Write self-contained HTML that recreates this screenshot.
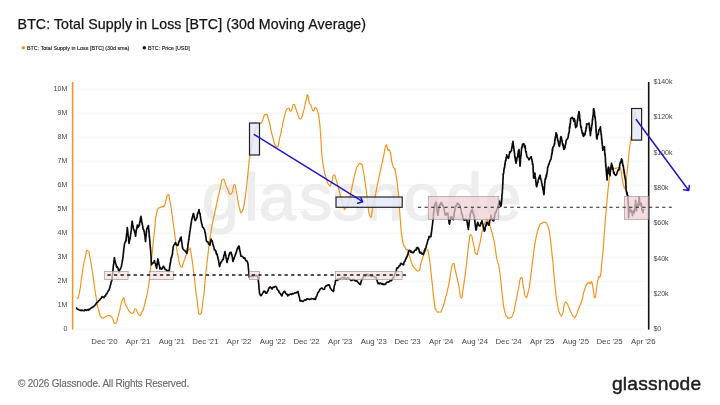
<!DOCTYPE html>
<html><head><meta charset="utf-8"><title>BTC: Total Supply in Loss</title>
<style>
html,body{margin:0;padding:0;background:#fff;}
body{width:720px;height:405px;overflow:hidden;position:relative;font-family:"Liberation Sans",sans-serif;}
#wrap{position:absolute;left:0;top:0;width:720px;height:405px;will-change:transform;transform:translateZ(0);}
#title{position:absolute;left:17.6px;top:16.3px;font-size:14.2px;color:#151515;white-space:nowrap;letter-spacing:0.07px;-webkit-text-stroke:0.25px #151515;}
#foot{position:absolute;left:18px;top:377.8px;font-size:10px;color:#6c6c6c;white-space:nowrap;letter-spacing:-0.2px;-webkit-text-stroke:0.15px #6c6c6c;}
#logo{position:absolute;left:612px;top:372.8px;font-size:19.2px;color:#1c1c1c;white-space:nowrap;letter-spacing:0.2px;-webkit-text-stroke:0.45px #1c1c1c;}
svg{position:absolute;left:0;top:0;}
svg text{font-family:"Liberation Sans",sans-serif;}
</style></head><body><div id="wrap">
<div id="title">BTC: Total Supply in Loss [BTC] (30d Moving Average)</div>
<svg width="720" height="405" viewBox="0 0 720 405">
<g font-size="5.38" fill="#151515" stroke="#151515" stroke-width="0.12">
<circle cx="23.3" cy="47.7" r="1.7" fill="#f7931a" stroke="none"/><text x="27" y="49.5">BTC: Total Supply in Loss [BTC] (30d sma)</text>
<circle cx="144.3" cy="47.7" r="1.7" fill="#111" stroke="none"/><text x="148" y="49.5">BTC: Price [USD]</text>
</g>
<g stroke="#f0f0f0" stroke-width="0.8"><line x1="76.3" x2="644.5" y1="329.3" y2="329.3"/><line x1="76.3" x2="644.5" y1="305.3" y2="305.3"/><line x1="76.3" x2="644.5" y1="281.3" y2="281.3"/><line x1="76.3" x2="644.5" y1="257.3" y2="257.3"/><line x1="76.3" x2="644.5" y1="233.3" y2="233.3"/><line x1="76.3" x2="644.5" y1="209.3" y2="209.3"/><line x1="76.3" x2="644.5" y1="185.3" y2="185.3"/><line x1="76.3" x2="644.5" y1="161.3" y2="161.3"/><line x1="76.3" x2="644.5" y1="137.3" y2="137.3"/><line x1="76.3" x2="644.5" y1="113.3" y2="113.3"/><line x1="76.3" x2="644.5" y1="89.3" y2="89.3"/></g>
<text y="220" font-size="66.5" fill="#ededed" stroke="#ededed" stroke-width="1.3" stroke-linejoin="round" x="202 243.9 259.1 299.3 332.3 365.7 403.4 445.6 484.5">glassnode</text>
<g font-size="7.8" fill="#474747"><text x="67.4" y="331.4" text-anchor="end" font-size="7.1">0</text><text x="67.4" y="307.4" text-anchor="end" font-size="7.1">1M</text><text x="67.4" y="283.4" text-anchor="end" font-size="7.1">2M</text><text x="67.4" y="259.4" text-anchor="end" font-size="7.1">3M</text><text x="67.4" y="235.4" text-anchor="end" font-size="7.1">4M</text><text x="67.4" y="211.4" text-anchor="end" font-size="7.1">5M</text><text x="67.4" y="187.4" text-anchor="end" font-size="7.1">6M</text><text x="67.4" y="163.4" text-anchor="end" font-size="7.1">7M</text><text x="67.4" y="139.4" text-anchor="end" font-size="7.1">8M</text><text x="67.4" y="115.4" text-anchor="end" font-size="7.1">9M</text><text x="67.4" y="91.4" text-anchor="end" font-size="7.1">10M</text><text x="653.4" y="331.3" font-size="7.0">$0</text><text x="653.4" y="296.0" font-size="7.0">$20k</text><text x="653.4" y="260.6" font-size="7.0">$40k</text><text x="653.4" y="225.3" font-size="7.0">$60k</text><text x="653.4" y="190.0" font-size="7.0">$80k</text><text x="653.4" y="154.7" font-size="7.0">$100k</text><text x="653.4" y="119.3" font-size="7.0">$120k</text><text x="653.4" y="84.0" font-size="7.0">$140k</text><text x="104.4" y="344.2" text-anchor="middle">Dec '20</text><text x="138.1" y="344.2" text-anchor="middle">Apr '21</text><text x="171.8" y="344.2" text-anchor="middle">Aug '21</text><text x="205.4" y="344.2" text-anchor="middle">Dec '21</text><text x="239.1" y="344.2" text-anchor="middle">Apr '22</text><text x="272.8" y="344.2" text-anchor="middle">Aug '22</text><text x="306.5" y="344.2" text-anchor="middle">Dec '22</text><text x="340.2" y="344.2" text-anchor="middle">Apr '23</text><text x="373.8" y="344.2" text-anchor="middle">Aug '23</text><text x="407.5" y="344.2" text-anchor="middle">Dec '23</text><text x="441.2" y="344.2" text-anchor="middle">Apr '24</text><text x="474.9" y="344.2" text-anchor="middle">Aug '24</text><text x="508.6" y="344.2" text-anchor="middle">Dec '24</text><text x="542.2" y="344.2" text-anchor="middle">Apr '25</text><text x="575.9" y="344.2" text-anchor="middle">Aug '25</text><text x="609.6" y="344.2" text-anchor="middle">Dec '25</text><text x="643.3" y="344.2" text-anchor="middle">Apr '26</text></g>
<line x1="72.6" x2="72.6" y1="82" y2="329.6" stroke="#f7931a" stroke-width="1.5"/>
<line x1="648.7" x2="648.7" y1="82" y2="329.6" stroke="#111" stroke-width="1.6"/>
<path fill="none" stroke="#f7931a" stroke-width="1.18" stroke-linejoin="round" d="M76.7 298.5C77.6 296.8 77.5 301.7 79.3 293.3C81.1 284.9 80.3 285.1 82.2 273.3C84.1 261.5 83.2 265.4 85.1 257.8C87.0 250.2 86.0 249.8 87.8 250.5C89.6 251.2 88.6 250.9 90.4 260.0C92.2 269.1 91.4 265.2 93.3 277.8C95.2 290.4 94.3 286.7 96.2 297.8C98.1 308.9 97.1 304.4 98.9 311.0C100.7 317.6 99.4 315.6 101.6 317.5C103.8 319.4 103.1 317.4 105.5 316.7C107.9 316.0 106.7 315.1 108.9 315.5C111.1 315.9 110.0 315.2 112.2 317.8C114.4 320.4 113.3 324.8 115.5 323.3C117.7 321.8 116.4 321.4 118.9 313.3C121.4 305.2 120.7 301.9 122.9 298.9C125.1 295.9 123.7 300.9 125.5 304.4C127.3 307.9 126.7 307.0 128.2 309.5C129.7 312.0 128.4 310.8 130.0 312.0C131.6 313.2 131.2 314.0 133.0 313.0C134.8 312.0 133.5 308.3 135.5 309.0C137.5 309.7 136.8 314.0 139.0 315.0C141.2 316.0 139.8 316.7 142.0 312.0C144.2 307.3 143.2 310.7 145.5 301.0C147.8 291.3 147.2 295.7 149.0 283.0C150.8 270.3 150.0 272.3 151.0 263.0C152.0 253.7 150.9 265.4 152.0 255.0C153.1 244.6 152.8 245.8 154.4 231.7C156.0 217.6 154.5 221.0 156.7 212.8C158.9 204.6 158.4 209.5 161.0 207.0C163.6 204.5 162.1 209.4 164.4 205.4C166.7 201.4 165.9 196.2 167.8 195.0C169.7 193.8 168.6 195.4 170.0 201.7C171.4 208.0 170.2 201.2 172.0 214.0C173.8 226.8 173.5 226.0 175.5 240.0C177.5 254.0 176.2 247.1 178.0 256.0C179.8 264.9 179.0 265.0 181.0 266.7C183.0 268.4 182.1 265.2 184.0 261.0C185.9 256.8 184.9 257.9 186.7 254.0C188.5 250.1 188.1 249.7 189.5 249.4C190.9 249.1 189.5 244.5 191.0 253.0C192.5 261.5 192.0 259.3 194.0 275.0C196.0 290.7 195.0 286.9 197.0 300.0C199.0 313.1 197.9 314.7 200.0 314.4C202.1 314.1 201.5 311.6 203.3 299.0C205.1 286.4 204.0 291.0 205.5 276.7C207.0 262.4 206.0 271.0 207.8 256.0C209.6 241.0 208.4 247.2 211.0 231.7C213.6 216.2 212.5 223.5 215.5 209.4C218.5 195.3 217.5 199.4 220.0 189.4C222.5 179.4 220.7 180.2 222.9 179.4C225.1 178.6 224.0 182.1 226.7 187.0C229.4 191.9 228.4 194.8 231.0 194.0C233.6 193.2 232.5 184.5 234.4 184.5C236.3 184.5 235.0 186.1 236.7 194.0C238.4 201.9 237.8 202.4 239.5 208.3C241.2 214.2 240.2 213.5 241.8 211.7C243.4 209.9 242.8 211.7 244.4 202.8C246.0 193.9 245.3 196.6 246.7 185.0C248.1 173.4 247.4 177.8 248.5 168.0C249.6 158.2 248.4 165.6 250.0 155.5C251.6 145.4 251.1 147.0 253.3 137.8C255.5 128.6 254.5 132.6 256.7 127.8C258.9 123.0 258.2 125.2 260.0 123.3C261.8 121.4 260.2 125.0 262.0 122.0C263.8 119.0 263.2 114.7 265.5 114.4C267.8 114.1 266.8 114.3 269.0 121.0C271.2 127.7 269.4 125.8 272.0 134.4C274.6 143.0 274.0 145.9 276.7 146.7C279.4 147.5 277.4 146.7 280.0 136.7C282.6 126.7 281.8 126.1 284.4 116.7C287.0 107.3 285.6 110.3 287.8 108.4C290.0 106.5 289.0 112.3 291.0 111.0C293.0 109.7 291.9 104.4 293.8 104.4C295.7 104.4 294.6 106.2 296.7 111.0C298.8 115.8 297.8 118.6 300.0 118.9C302.2 119.2 301.3 118.1 303.3 112.0C305.3 105.9 304.5 106.2 306.0 100.5C307.5 94.8 306.6 94.3 307.7 95.0C308.8 95.7 308.1 98.8 309.3 102.5C310.5 106.2 309.9 103.2 311.2 106.0C312.5 108.8 311.7 110.3 313.1 110.9C314.5 111.5 313.8 107.6 315.3 107.8C316.8 108.0 316.2 107.1 317.6 111.5C319.0 115.9 318.4 113.4 319.4 121.0C320.4 128.6 319.7 122.9 320.6 134.4C321.5 145.9 320.9 144.3 322.0 155.5C323.1 166.7 322.6 161.2 323.8 168.0C325.0 174.8 323.8 170.3 325.5 176.0C327.2 181.7 327.0 182.7 329.0 185.0C331.0 187.3 329.9 186.1 331.5 182.8C333.1 179.5 332.1 175.4 333.8 175.0C335.5 174.6 334.6 175.4 336.7 181.7C338.8 188.0 337.8 185.9 340.0 194.0C342.2 202.1 341.5 201.2 343.3 206.0C345.1 210.8 343.6 210.0 345.5 208.3C347.4 206.6 346.8 208.1 349.0 201.0C351.2 193.9 349.8 196.8 352.0 187.0C354.2 177.2 353.6 178.7 355.5 171.7C357.4 164.7 356.0 168.6 357.8 166.0C359.6 163.4 359.2 162.3 361.0 164.0C362.8 165.7 361.4 161.0 363.3 171.0C365.2 181.0 364.5 179.0 366.7 194.0C368.9 209.0 367.8 212.3 370.0 216.0C372.2 219.7 370.7 216.1 373.3 205.0C375.9 193.9 375.2 195.1 377.8 182.8C380.4 170.5 379.2 176.3 381.0 168.0C382.8 159.7 381.6 165.3 383.3 157.8C385.0 150.3 384.5 148.1 386.0 145.5C387.5 142.9 386.5 148.0 387.8 150.0C389.1 152.0 388.5 147.1 390.0 151.5C391.5 155.9 390.7 157.5 392.2 163.3C393.7 169.1 393.3 166.1 394.4 169.0C395.5 171.9 394.2 164.4 395.5 172.0C396.8 179.6 396.7 177.0 398.2 191.7C399.7 206.4 398.7 200.5 400.0 216.0C401.3 231.5 400.4 227.5 402.2 238.3C404.0 249.1 403.6 244.1 405.5 248.3C407.4 252.5 406.2 246.8 408.0 251.0C409.8 255.2 408.9 255.4 411.0 261.0C413.1 266.6 411.7 264.7 414.4 267.8C417.1 270.9 416.8 271.9 419.0 270.4C421.2 268.9 419.2 269.0 421.0 263.3C422.8 257.6 422.4 257.7 424.4 253.3C426.4 248.9 425.6 250.1 427.0 250.0C428.4 249.9 427.5 248.6 428.5 253.0C429.5 257.4 428.8 253.2 430.0 263.3C431.2 273.4 430.7 270.0 432.2 283.3C433.7 296.6 433.1 294.4 434.4 303.3C435.7 312.2 434.3 307.1 436.0 310.0C437.7 312.9 437.4 312.3 439.5 312.0C441.6 311.7 440.2 313.7 442.2 309.0C444.2 304.3 443.2 306.4 445.5 297.8C447.8 289.2 447.2 292.2 449.0 283.3C450.8 274.4 449.6 277.7 451.0 271.0C452.4 264.3 451.8 263.3 453.3 263.3C454.8 263.3 453.6 263.2 455.5 271.0C457.4 278.8 457.2 277.8 459.0 286.7C460.8 295.6 459.6 297.4 461.0 297.8C462.4 298.2 461.4 299.7 463.3 287.8C465.2 275.9 464.8 277.3 466.7 262.0C468.6 246.7 467.6 251.0 469.0 242.0C470.4 233.0 469.6 234.7 471.0 235.0C472.4 235.3 471.6 236.5 473.3 242.8C475.0 249.1 474.1 252.6 476.0 254.0C477.9 255.4 476.9 254.4 479.0 247.0C481.1 239.6 480.0 240.1 482.2 231.7C484.4 223.3 483.6 225.4 485.5 221.7C487.4 218.0 486.0 217.9 487.8 220.5C489.6 223.1 488.8 221.9 491.0 229.4C493.2 236.9 492.5 233.5 494.4 243.0C496.3 252.5 495.0 249.0 496.7 258.0C498.4 267.0 497.7 257.9 499.5 270.0C501.3 282.1 500.6 281.1 502.2 294.4C503.8 307.7 502.8 302.6 504.4 310.0C506.0 317.4 505.1 314.1 507.0 316.7C508.9 319.3 508.0 318.6 510.0 317.8C512.0 317.0 511.2 319.2 513.0 314.4C514.8 309.6 513.8 311.4 515.5 303.3C517.2 295.2 516.4 298.5 518.2 290.0C520.0 281.5 519.3 279.3 521.0 277.8C522.7 276.3 521.8 279.2 523.3 285.5C524.8 291.8 523.8 294.9 525.5 296.7C527.2 298.5 526.7 297.7 528.4 291.0C530.1 284.3 529.2 287.7 530.7 276.7C532.2 265.7 531.4 270.1 533.0 258.0C534.6 245.9 533.5 250.8 535.5 240.5C537.5 230.2 536.8 232.8 539.0 227.0C541.2 221.2 540.2 224.8 542.2 223.2C544.2 221.6 543.1 221.4 545.0 222.3C546.9 223.2 546.1 221.4 547.8 226.0C549.5 230.6 548.6 226.7 550.0 236.0C551.4 245.3 551.0 244.9 552.0 254.0C553.0 263.1 552.0 252.8 553.0 263.3C554.0 273.8 553.6 272.2 555.0 285.5C556.4 298.8 555.6 293.8 557.3 303.3C559.0 312.8 558.2 310.7 560.0 314.0C561.8 317.3 561.2 316.5 562.7 313.3C564.2 310.1 563.1 307.8 564.4 304.4C565.7 301.0 565.2 301.9 566.7 303.0C568.2 304.1 567.4 304.4 569.0 307.8C570.6 311.2 569.9 310.2 571.5 313.3C573.1 316.4 572.3 316.3 573.8 317.0C575.3 317.7 574.3 318.6 576.0 315.5C577.7 312.4 577.1 312.6 579.0 307.8C580.9 303.0 580.0 306.9 581.8 301.0C583.6 295.1 582.4 296.0 584.4 290.0C586.4 284.0 585.9 285.1 587.8 283.0C589.7 280.9 588.7 284.1 590.0 283.8C591.3 283.5 590.7 280.1 591.8 282.2C592.9 284.3 592.2 284.8 593.3 290.0C594.4 295.2 593.9 298.5 595.0 297.8C596.1 297.1 595.6 294.5 596.7 287.8C597.8 281.1 597.2 281.9 598.4 277.8C599.6 273.7 599.3 280.3 600.4 275.5C601.5 270.7 600.8 272.5 601.8 263.3C602.8 254.1 602.4 258.5 603.3 248.0C604.2 237.5 603.3 246.0 604.4 231.7C605.5 217.4 605.2 221.9 606.7 205.0C608.2 188.1 607.6 192.8 609.0 181.0C610.4 169.2 608.8 173.7 611.0 169.5C613.2 165.3 612.7 169.0 615.5 168.4C618.3 167.8 617.7 166.9 619.5 167.8C621.3 168.7 619.7 165.5 621.0 171.0C622.3 176.5 621.8 179.3 623.3 184.4C624.8 189.5 624.3 189.9 625.5 186.2C626.7 182.5 625.8 184.3 627.0 173.3C628.2 162.3 627.8 164.4 629.0 153.3C630.2 142.2 629.6 147.8 630.7 140.0C631.8 132.2 631.1 138.0 632.2 130.0C633.3 122.0 633.0 122.0 634.0 116.0C635.0 110.0 634.4 112.5 635.1 112.0C635.8 111.5 635.4 112.2 636.0 114.5C636.6 116.8 636.5 117.5 636.8 119.0"/>
<polyline fill="none" stroke="#0a0a0a" stroke-width="1.65" stroke-linejoin="round" points="76.0,307.9 76.7,308.1 77.3,309.2 78.0,309.2 78.7,309.8 79.3,310.0 80.0,310.1 80.6,310.5 81.2,310.1 81.8,310.6 82.4,310.2 83.0,310.5 83.6,310.6 84.2,310.8 84.8,309.9 85.4,309.9 86.0,310.1 86.6,310.4 87.2,309.9 87.8,309.6 88.4,310.1 89.0,309.1 89.7,309.6 90.3,308.6 91.0,308.2 91.6,307.6 92.2,307.4 92.7,307.5 93.3,306.4 93.8,306.3 94.4,305.9 95.0,305.1 95.5,304.8 96.1,303.6 96.7,302.9 97.2,302.3 97.8,302.2 98.3,301.3 98.9,300.5 99.5,300.2 100.0,299.5 100.5,298.5 101.0,298.5 101.5,297.7 102.0,296.5 102.6,297.0 103.2,297.1 103.8,297.6 104.4,297.0 104.9,295.8 105.5,295.9 106.0,294.3 106.5,294.1 107.0,293.7 107.5,292.1 108.0,291.7 108.5,290.2 109.0,290.2 109.3,289.4 109.6,288.1 109.9,287.6 110.2,285.7 110.5,285.2 110.8,284.1 111.0,283.1 111.2,281.9 111.5,281.5 111.8,280.7 112.0,279.0 112.1,278.3 112.2,276.3 112.3,276.3 112.4,275.2 112.5,274.8 112.7,273.5 112.8,271.6 112.9,270.8 113.0,270.3 113.1,268.2 113.2,268.0 113.3,266.4 113.4,265.3 113.6,264.1 113.7,264.4 113.8,262.2 113.9,261.4 114.0,260.7 114.2,260.5 114.3,258.0 114.4,257.7 114.6,258.9 114.8,260.6 115.1,261.5 115.3,262.6 115.5,262.7 115.8,263.8 116.1,264.6 116.4,266.5 116.7,267.3 117.2,266.7 117.8,267.6 118.1,268.5 118.4,269.5 118.7,271.0 119.0,272.1 119.5,270.6 120.0,269.4 120.5,268.8 121.0,267.6 121.2,267.0 121.4,266.7 121.6,265.2 121.8,264.0 122.0,263.2 122.2,262.2 122.4,260.1 122.5,260.6 122.7,259.3 122.8,258.4 123.0,257.2 123.1,255.3 123.3,254.3 123.4,252.6 123.5,252.6 123.7,250.4 123.8,249.3 123.9,248.6 124.0,247.4 124.2,246.8 124.3,245.1 124.4,244.3 124.7,243.4 125.0,242.3 125.4,242.0 125.7,240.4 126.0,241.1 126.1,239.7 126.2,237.7 126.3,236.9 126.4,236.1 126.5,235.1 126.7,233.5 126.8,234.2 126.9,233.5 127.0,231.3 127.1,230.3 127.2,228.3 127.3,227.6 127.4,229.0 127.6,229.9 127.7,232.4 127.8,231.9 127.9,232.7 128.1,235.9 128.2,236.0 128.3,236.3 128.5,238.4 128.6,238.4 128.7,240.6 128.9,242.7 129.0,243.4 129.2,242.3 129.5,240.4 129.8,239.7 130.0,238.5 130.1,238.6 130.3,237.1 130.4,236.6 130.6,234.6 130.7,233.6 130.8,233.7 130.9,233.1 131.0,231.8 131.2,230.7 131.3,229.8 131.4,228.6 131.5,226.5 131.6,226.0 131.8,224.5 131.9,222.7 132.1,221.6 132.2,221.3 132.4,222.2 132.6,224.3 132.9,226.0 133.1,225.9 133.4,228.2 133.7,229.4 134.0,230.2 134.3,230.3 134.5,231.1 134.8,232.6 135.0,233.3 135.3,234.3 135.5,236.2 135.7,235.9 135.8,234.8 135.9,233.0 136.1,232.4 136.2,231.7 136.4,229.3 136.6,229.4 136.8,229.0 136.9,227.7 137.1,226.6 137.3,225.0 137.7,225.2 138.1,227.5 139.0,225.7 139.2,225.7 139.4,225.2 139.6,222.7 139.8,221.8 140.0,221.8 140.2,220.6 140.5,218.2 140.8,217.0 141.0,216.4 141.2,219.0 141.4,219.8 141.5,219.1 141.7,221.8 141.9,222.8 142.1,223.4 142.2,223.6 142.4,225.1 142.5,225.1 142.7,226.2 143.1,229.1 143.5,229.2 143.8,230.0 144.1,231.8 144.4,231.6 144.5,233.6 144.6,234.6 144.8,234.2 144.9,235.4 145.0,236.7 145.1,237.6 145.2,239.5 145.4,240.0 145.5,241.6 145.6,239.8 145.7,240.4 145.8,238.0 145.9,237.1 146.0,236.3 146.1,235.6 146.2,233.7 146.3,233.7 146.5,231.6 146.6,230.6 146.7,229.4 147.5,227.2 147.9,226.9 148.4,225.5 148.5,225.8 148.6,228.7 148.7,228.2 148.8,229.9 148.9,231.5 149.0,232.1 149.1,232.6 149.2,234.0 149.2,235.1 149.3,236.6 149.4,236.1 149.5,238.1 149.6,238.4 149.7,239.5 149.8,241.6 149.9,242.0 149.9,243.1 150.0,244.6 150.1,245.9 150.2,245.9 150.3,247.2 150.4,248.0 150.5,249.0 150.6,250.4 150.7,250.9 150.7,252.1 150.8,253.0 150.9,254.9 151.0,255.3 151.1,256.8 151.1,258.0 151.2,257.7 151.2,259.3 151.2,261.1 151.3,261.9 151.3,261.7 151.4,262.7 151.4,264.3 151.5,265.0 151.9,264.2 152.4,263.1 152.8,263.2 153.3,262.9 153.9,262.4 154.4,260.5 154.8,262.4 155.1,263.3 155.5,263.5 155.8,265.6 156.1,266.7 156.4,266.3 156.7,268.4 156.8,266.5 157.0,265.6 157.1,265.4 157.2,264.0 157.4,261.7 157.5,261.1 157.7,260.1 157.8,258.8 158.0,259.4 158.2,260.7 158.5,262.4 158.7,262.1 158.9,264.1 159.1,264.9 159.3,265.1 159.6,266.7 159.8,268.2 160.0,269.0 160.8,268.0 161.6,269.1 162.2,268.4 162.7,268.1 163.3,266.2 163.9,267.1 164.4,267.4 165.0,269.3 165.6,269.3 166.1,269.7 166.7,270.9 167.2,271.2 167.8,270.4 168.4,270.6 169.0,271.6 169.1,271.7 169.3,270.1 169.4,269.4 169.6,267.3 169.7,266.2 169.9,266.3 170.0,264.9 170.2,263.2 170.3,263.8 170.5,262.3 170.7,261.6 170.8,259.2 171.0,259.5 171.3,257.2 171.6,257.7 171.9,255.9 172.2,254.8 172.3,254.1 172.5,253.9 172.6,251.5 172.8,250.2 172.9,250.1 173.0,248.5 173.2,247.2 173.3,246.5 173.9,245.0 174.4,244.6 174.9,243.5 175.5,242.5 176.1,244.5 176.6,244.7 177.2,245.5 177.8,245.5 178.1,244.7 178.5,243.0 178.8,242.5 179.2,240.9 179.5,241.4 179.9,240.1 180.2,238.3 180.6,237.9 181.0,237.7 181.2,237.1 181.3,239.7 181.4,239.9 181.6,241.0 181.8,242.7 181.9,242.8 182.1,244.0 182.2,245.4 182.4,247.0 182.5,246.7 182.7,248.5 183.3,249.3 183.8,249.9 184.4,250.4 184.9,250.9 185.5,251.4 186.1,252.3 186.7,253.4 186.9,253.5 187.0,251.5 187.2,250.3 187.3,249.1 187.5,249.7 187.6,248.8 187.8,247.3 187.9,245.5 188.1,244.5 188.2,243.6 188.3,242.9 188.5,241.3 188.6,240.9 188.7,239.5 188.9,240.0 189.0,238.7 189.1,237.1 189.3,235.4 189.4,236.1 189.6,233.6 189.7,232.7 189.9,230.8 190.0,230.8 190.2,229.9 190.3,229.0 190.5,227.3 190.7,227.0 190.8,224.8 191.0,224.6 191.2,223.0 191.3,222.8 191.5,220.9 191.7,219.8 191.9,219.5 192.0,218.3 192.2,218.2 192.4,217.0 192.6,216.6 192.9,215.3 193.1,214.4 193.3,213.5 193.5,213.6 193.8,214.4 194.0,217.2 194.2,216.4 194.5,218.7 194.7,219.7 195.0,219.7 195.4,220.6 195.8,219.7 196.7,218.2 196.9,217.6 197.1,216.8 197.4,214.1 197.6,214.1 197.8,213.0 198.1,213.0 198.4,212.0 198.7,211.2 199.0,209.6 199.2,211.7 199.5,212.3 199.7,213.4 199.9,213.3 200.1,213.8 200.2,215.1 200.4,216.7 200.6,217.0 200.8,219.9 201.0,220.1 201.2,221.2 201.4,222.3 201.6,223.4 201.8,224.0 202.0,224.1 202.4,226.6 202.8,227.3 203.2,227.5 203.8,228.5 204.4,229.7 204.6,229.5 204.8,232.2 205.1,232.2 205.3,232.9 205.5,234.6 205.7,236.6 205.9,236.6 206.1,238.9 206.3,240.5 206.5,240.6 206.7,241.5 207.8,241.7 208.2,242.9 208.6,243.8 209.0,244.2 210.0,245.2 210.2,243.0 210.4,242.0 210.6,241.1 210.8,241.1 211.0,239.1 211.4,240.3 211.8,240.3 212.2,241.0 212.6,242.5 212.9,244.4 213.3,245.3 213.5,246.4 213.7,246.6 214.0,248.0 214.2,248.9 214.4,250.0 215.5,250.0 215.8,252.2 216.1,251.6 216.4,254.1 216.7,254.6 217.1,253.9 217.4,255.7 217.8,257.1 218.0,258.7 218.2,258.8 218.4,259.5 218.6,260.6 218.8,263.0 219.0,262.7 219.1,264.6 219.3,264.9 219.5,266.7 219.8,266.2 220.2,263.5 220.6,263.6 221.0,262.0 221.6,261.7 222.2,260.3 222.8,259.0 223.3,259.5 223.5,258.0 223.8,256.1 224.0,255.0 224.2,255.0 224.5,253.9 224.7,252.6 225.0,251.5 225.2,252.7 225.4,253.6 225.6,255.7 225.8,255.0 226.0,257.3 226.2,258.7 226.4,258.3 226.6,260.8 226.8,261.4 227.0,262.5 227.3,260.6 227.6,259.8 227.9,258.8 228.2,258.7 228.5,257.3 228.8,255.9 229.0,255.2 229.3,254.1 229.8,252.8 230.2,252.4 231.0,252.5 231.2,252.6 231.5,254.9 231.8,254.5 232.0,255.7 232.2,257.0 232.4,257.4 232.6,258.8 232.8,260.9 233.0,261.5 233.3,260.6 233.7,259.3 234.0,258.8 234.3,257.6 234.7,256.2 235.1,255.7 235.5,253.8 235.8,253.9 236.1,252.4 236.4,252.0 236.7,250.7 237.1,249.2 237.6,247.9 238.0,248.6 238.5,246.2 239.0,246.0 239.2,246.7 239.4,247.6 239.6,249.5 239.8,251.0 240.0,250.7 240.2,252.5 240.4,252.9 240.6,254.5 240.8,255.4 241.0,256.2 241.8,256.2 242.7,256.6 243.6,258.2 244.4,257.8 244.9,258.0 245.5,260.0 246.0,260.7 246.4,260.7 246.9,261.0 247.4,261.9 247.8,262.8 247.9,264.1 248.1,264.8 248.2,266.2 248.3,267.3 248.5,269.0 248.6,270.5 248.7,271.5 248.8,272.1 248.9,273.2 249.0,274.5 249.1,275.4 249.2,276.4 249.3,277.3 249.9,276.5 250.6,276.5 251.3,275.7 252.0,276.7 252.6,276.4 253.1,276.4 253.7,275.0 254.3,275.2 254.9,275.4 255.5,275.9 256.1,275.4 256.8,275.5 257.4,276.4 258.0,277.1 258.1,277.0 258.2,278.0 258.3,280.1 258.4,281.5 258.5,281.8 258.6,283.1 258.7,283.2 258.8,284.9 258.9,286.7 259.0,287.6 259.1,288.6 259.1,289.8 259.2,289.8 259.3,290.7 259.4,291.8 259.5,293.3 260.0,294.3 260.5,295.4 261.0,295.7 261.6,294.9 262.1,294.2 262.7,293.0 263.3,292.4 263.8,291.0 264.4,291.3 264.9,291.4 265.5,292.9 266.1,293.1 266.7,293.1 267.1,292.0 267.5,291.3 267.9,291.0 268.3,290.2 268.7,288.6 269.1,287.7 269.6,287.6 270.0,286.8 270.5,287.2 271.0,287.7 272.0,289.1 272.6,287.6 273.1,287.4 273.7,287.0 274.3,287.3 274.9,286.5 275.5,286.4 275.9,286.7 276.4,287.1 276.8,287.9 277.2,289.5 277.6,290.0 278.1,290.2 278.6,290.6 279.0,292.0 279.5,292.9 280.0,293.2 280.5,293.8 281.2,295.0 282.0,295.9 282.4,294.3 282.8,293.2 283.2,292.8 283.8,291.9 284.4,291.2 284.9,291.4 285.5,293.1 286.0,293.7 286.6,294.2 287.2,294.4 287.8,295.9 288.6,294.7 289.4,294.8 290.2,294.1 291.0,294.1 291.7,294.5 292.5,293.5 293.2,293.9 294.0,293.4 294.7,292.9 295.5,293.0 296.1,292.6 296.8,292.4 297.4,292.6 298.0,291.5 298.2,292.7 298.5,293.5 298.8,295.6 299.0,295.7 299.2,296.6 299.5,297.8 299.8,299.4 300.0,301.0 300.8,301.1 301.6,300.7 302.5,301.4 303.3,301.4 304.0,300.4 304.8,299.8 305.5,300.2 306.3,299.8 307.0,298.7 307.8,299.1 308.6,299.1 309.4,299.5 310.2,299.2 311.0,299.0 311.7,298.5 312.5,298.7 313.2,298.7 314.0,299.4 314.7,298.5 315.5,299.4 315.9,297.6 316.2,296.8 316.6,296.3 317.0,295.5 317.4,294.1 317.8,292.9 318.3,292.3 318.9,291.3 319.4,290.9 319.9,289.3 320.5,288.8 321.0,288.6 321.9,287.9 322.7,288.9 323.5,289.4 324.4,289.3 324.9,287.3 325.5,286.5 326.1,285.6 326.7,285.9 327.8,285.0 328.4,285.2 329.0,284.8 329.3,285.0 329.7,285.8 330.0,287.5 330.5,288.2 331.0,288.8 331.6,290.1 332.2,290.3 332.8,290.9 333.3,291.5 333.5,291.4 333.7,290.6 333.9,289.2 334.0,288.6 334.2,286.3 334.4,285.7 334.6,285.0 334.8,284.7 335.1,283.7 335.3,281.8 335.5,280.7 336.1,280.5 336.6,280.2 337.2,280.3 337.8,279.0 338.4,279.7 339.0,279.3 339.7,279.2 340.3,278.8 341.0,278.1 341.8,277.7 342.5,277.6 343.3,277.6 344.0,278.5 344.8,277.6 345.5,278.2 346.3,278.9 347.0,278.0 347.8,277.9 348.5,278.0 349.3,279.2 350.0,279.3 350.7,280.4 351.3,280.4 352.0,280.5 352.6,279.7 353.2,279.5 353.8,279.6 354.4,280.3 355.2,280.9 355.9,280.7 356.7,280.7 357.2,281.4 357.8,282.1 358.4,282.8 359.0,283.3 359.7,284.2 360.4,284.6 360.7,282.9 360.9,283.0 361.2,281.3 361.6,280.4 362.0,278.9 362.6,278.8 363.1,277.3 363.7,276.7 364.3,276.2 364.9,275.4 365.5,276.1 366.1,275.1 366.7,274.2 367.5,274.5 368.2,275.8 369.0,275.2 369.7,274.9 370.3,275.9 371.0,275.7 371.7,276.5 372.5,275.2 373.2,276.0 374.0,276.8 374.7,277.0 375.5,277.2 375.9,277.1 376.4,278.6 376.8,279.6 377.1,280.3 377.5,282.4 377.9,282.6 378.2,283.8 378.8,283.1 379.4,283.8 380.0,283.1 380.7,283.0 381.5,284.0 382.2,284.3 382.8,283.5 383.4,284.5 384.0,284.7 384.8,284.1 385.5,284.3 386.1,283.2 386.6,282.7 387.2,282.1 387.8,282.1 388.6,282.1 389.4,281.5 390.2,280.6 391.0,280.8 391.6,280.5 392.2,279.2 392.8,278.3 393.3,277.5 393.9,277.1 394.4,275.6 394.9,273.7 395.5,272.8 395.8,272.0 396.1,271.1 396.4,270.2 396.7,268.5 397.2,267.9 397.8,268.2 398.4,267.2 399.0,266.4 399.5,265.5 400.0,265.6 400.5,263.8 401.0,263.4 401.6,263.5 402.2,264.2 403.3,264.9 403.7,264.5 404.0,262.5 404.4,261.6 404.9,261.4 405.5,259.6 405.9,258.1 406.2,258.8 406.6,256.9 407.0,256.8 407.4,255.1 407.8,254.9 408.2,253.2 408.6,251.5 409.0,250.3 410.0,250.6 410.5,251.3 411.1,252.3 411.6,251.4 412.5,252.6 413.3,252.6 413.9,252.1 414.4,250.7 414.9,250.3 415.5,250.0 416.1,250.1 416.6,247.7 417.2,247.7 417.8,247.4 418.2,249.0 418.6,248.4 419.0,249.5 419.3,251.8 419.7,252.8 420.0,252.8 420.8,252.1 421.6,253.8 422.5,253.4 423.3,254.6 423.6,253.3 424.0,252.9 424.3,250.6 424.7,251.0 425.0,249.1 425.3,248.4 425.7,248.4 426.0,247.5 426.4,245.2 426.7,244.6 427.0,243.8 427.2,243.0 427.5,241.7 427.8,240.4 428.1,239.4 428.4,239.5 428.7,238.9 429.0,236.3 430.0,236.9 431.0,236.4 431.1,233.9 431.2,234.8 431.4,232.1 431.5,232.2 431.6,231.1 431.8,230.3 431.9,228.5 432.0,227.9 432.1,227.1 432.3,225.7 432.4,225.2 432.6,223.6 432.7,222.5 432.9,220.4 433.0,220.7 433.1,219.4 433.2,217.7 433.3,218.0 433.4,216.9 433.5,215.0 433.6,213.2 433.7,213.0 433.8,211.0 433.9,210.0 434.0,209.8 434.2,207.9 434.3,207.8 434.4,207.0 434.7,204.7 434.9,205.4 435.2,203.2 435.6,203.5 436.0,202.2 436.1,202.8 436.3,202.6 436.4,204.9 436.6,205.6 436.8,208.2 436.9,207.3 437.0,210.0 437.2,211.3 437.3,211.6 437.4,212.8 437.5,212.2 437.7,215.3 437.8,215.0 438.0,215.2 438.1,214.1 438.3,211.1 438.4,211.8 438.6,210.8 438.8,207.8 439.0,207.6 439.1,207.7 439.3,205.1 439.5,205.8 440.1,203.9 440.6,204.6 441.2,202.4 441.8,202.8 442.1,205.1 442.5,204.4 442.9,205.3 443.3,207.0 443.6,207.5 443.9,207.7 444.1,209.1 444.4,210.4 444.7,213.2 444.9,213.5 445.2,215.0 445.5,214.4 446.1,215.2 446.6,213.3 447.2,213.5 447.8,213.1 447.9,213.5 448.1,215.9 448.2,216.1 448.4,217.2 448.5,218.7 448.6,218.0 448.8,221.2 448.9,221.3 449.0,221.7 449.2,223.7 449.3,223.6 449.5,224.2 449.8,222.2 450.0,220.6 450.2,220.5 450.5,218.9 450.7,217.2 451.0,217.4 451.6,216.6 452.2,219.1 452.8,218.3 453.3,219.6 453.5,219.6 453.7,217.5 453.9,216.6 454.0,214.6 454.2,212.8 454.4,212.1 454.6,211.1 454.8,211.3 454.9,209.8 455.1,209.0 455.3,209.1 455.5,206.3 456.1,205.5 456.6,205.8 457.2,203.4 457.8,203.0 458.4,204.1 458.9,204.2 459.4,205.1 460.0,205.5 460.2,207.2 460.5,208.2 460.8,208.2 461.0,210.2 461.2,210.9 461.4,211.0 461.6,214.2 461.8,213.3 462.0,214.4 462.4,215.0 462.8,217.4 463.2,218.7 463.6,219.6 464.0,219.4 464.4,220.1 465.5,219.1 466.1,220.1 466.7,219.5 466.9,220.2 467.1,222.1 467.3,222.7 467.5,224.8 467.7,225.7 467.9,225.5 468.0,228.2 468.2,227.2 468.4,229.5 468.5,228.1 468.6,226.7 468.7,225.2 468.9,225.9 469.0,222.9 469.1,223.2 469.2,222.8 469.3,220.1 469.5,219.2 469.6,219.3 469.7,218.0 469.9,217.4 470.0,216.6 470.2,214.2 470.5,213.5 470.8,212.5 471.0,211.2 471.3,212.2 471.7,211.0 472.0,209.8 472.3,209.0 472.6,212.1 472.9,212.7 473.2,212.9 473.5,214.6 473.8,214.9 474.1,215.3 474.4,216.3 474.5,217.3 474.6,217.8 474.7,219.6 474.9,221.6 475.0,222.5 475.1,223.9 475.2,224.4 475.3,224.5 475.5,226.3 475.6,227.1 475.7,229.0 475.9,229.5 476.0,230.1 476.2,229.7 476.4,229.4 476.7,226.4 476.9,226.6 477.2,223.7 477.5,223.3 477.8,222.3 478.4,224.3 478.9,225.3 479.4,225.9 480.0,225.7 480.3,225.9 480.7,223.6 481.0,222.5 481.3,223.2 481.7,221.7 482.0,220.8 482.2,222.0 482.5,223.9 482.7,223.7 483.0,225.7 483.2,226.3 483.4,227.8 483.6,227.7 483.8,229.4 484.0,230.0 484.2,230.3 484.4,231.2 484.6,231.0 484.8,228.8 485.1,229.9 485.3,227.1 485.5,226.2 485.8,225.0 486.1,226.0 486.4,223.5 486.7,222.2 487.2,222.2 487.8,223.2 488.4,225.0 489.0,225.2 489.2,224.5 489.4,223.6 489.6,220.9 489.8,221.2 490.0,219.8 490.2,219.8 490.5,218.8 490.8,218.0 491.0,215.2 491.4,217.9 491.8,219.1 492.2,219.8 492.6,218.9 492.9,220.1 493.3,221.0 493.5,219.6 493.7,220.7 494.0,219.7 494.2,218.3 494.4,217.6 494.7,216.3 494.9,214.3 495.2,212.8 495.5,212.1 496.1,212.3 496.6,209.9 497.2,208.9 497.8,208.2 498.0,205.9 498.2,205.5 498.4,204.5 498.6,204.4 499.1,202.4 499.5,201.1 499.8,204.0 500.0,203.8 500.3,205.7 500.6,206.3 501.0,206.1 501.1,205.8 501.2,204.8 501.3,204.8 501.4,202.6 501.5,202.6 501.6,201.1 501.7,199.2 501.8,200.0 501.9,196.8 501.9,197.9 502.0,195.0 502.1,193.5 502.2,193.4 502.3,193.8 502.3,193.4 502.4,189.5 502.4,190.0 502.5,189.0 502.6,188.9 502.6,186.0 502.7,186.0 502.7,184.5 502.8,184.7 502.9,182.3 502.9,183.4 502.9,180.3 503.0,179.1 503.1,179.6 503.1,178.0 503.2,175.7 503.2,176.4 503.2,173.6 503.3,174.7 503.5,173.6 503.7,172.9 503.8,171.4 504.0,169.5 504.2,168.8 504.4,167.5 504.6,168.0 504.8,164.1 505.0,165.3 505.2,161.7 505.4,161.2 505.6,160.3 505.8,161.0 506.0,158.9 506.2,157.3 506.5,158.0 506.7,154.8 507.1,156.1 507.5,157.1 508.4,158.4 508.7,157.8 508.9,156.5 509.2,154.6 509.5,153.4 509.7,151.8 510.0,152.9 510.8,151.4 511.5,150.6 511.7,147.8 511.9,147.8 512.0,148.0 512.2,146.2 512.4,143.6 512.6,143.9 512.8,144.4 513.0,141.3 513.1,141.8 513.2,143.3 513.4,145.8 513.5,147.3 513.6,145.7 513.7,147.1 513.8,148.1 514.0,149.5 514.1,151.3 514.3,151.0 514.4,152.9 514.6,153.4 514.8,157.3 515.0,157.6 515.2,157.0 515.4,160.6 515.6,158.6 515.8,160.6 516.0,163.2 516.3,162.0 516.6,160.8 516.9,158.8 517.3,156.8 517.8,157.0 517.9,154.1 518.1,153.3 518.2,152.8 518.4,150.8 518.6,150.6 518.8,151.1 519.0,149.5 519.1,150.0 519.1,151.5 519.2,151.9 519.2,151.7 519.3,154.4 519.4,154.7 519.4,156.9 519.5,158.0 519.6,157.8 519.6,159.4 519.7,161.1 519.8,161.0 519.8,161.4 519.9,164.1 519.9,165.7 520.0,166.1 520.1,165.1 520.2,164.6 520.3,163.0 520.4,161.8 520.5,160.1 520.6,158.5 520.7,158.6 520.8,155.6 520.9,155.8 521.0,156.0 521.1,154.7 521.2,153.4 521.3,151.0 521.4,150.6 521.5,149.6 521.6,149.2 521.7,147.4 521.8,147.2 522.1,147.4 522.5,144.2 522.9,144.7 523.3,144.0 523.8,143.7 524.2,145.0 524.6,147.6 525.0,145.5 525.2,147.9 525.4,147.6 525.6,150.9 525.8,152.1 526.0,152.2 526.2,151.8 526.5,154.6 526.7,155.6 527.2,157.3 527.8,157.5 528.4,158.7 529.0,159.8 530.0,158.1 530.5,157.0 531.0,157.8 531.3,156.8 531.7,159.5 532.0,159.7 532.2,161.9 532.3,160.7 532.5,164.7 532.7,163.5 532.8,163.5 533.0,165.5 533.0,166.7 533.1,166.4 533.1,168.8 533.2,169.8 533.2,171.8 533.3,171.7 533.4,172.4 533.4,173.3 533.5,176.0 533.5,177.7 533.6,177.4 533.6,177.7 534.0,178.1 534.3,175.8 534.6,174.1 535.0,173.2 535.1,175.9 535.2,177.0 535.3,177.4 535.5,177.9 535.6,179.2 535.7,179.1 535.8,182.0 535.9,181.5 536.1,183.4 536.2,185.0 536.4,186.0 536.6,185.9 536.7,186.6 536.9,186.1 537.0,183.8 537.2,185.0 537.4,182.7 537.8,182.8 538.2,180.0 538.7,178.9 539.1,177.4 539.5,176.8 540.0,175.3 540.3,175.5 540.5,179.0 540.8,178.7 541.1,179.9 541.4,181.0 541.7,182.7 541.9,183.7 542.2,185.3 542.4,186.6 542.7,186.8 542.9,189.7 543.1,190.2 543.3,189.3 543.5,192.7 543.8,194.1 544.0,194.6 544.1,191.9 544.1,193.0 544.2,191.4 544.3,188.5 544.4,187.5 544.4,189.4 544.5,187.3 544.6,185.2 544.7,183.6 544.8,182.6 544.8,181.8 544.9,182.4 545.0,180.2 545.4,178.1 545.8,178.9 546.0,177.9 546.2,174.9 546.5,176.3 546.7,174.2 546.9,173.9 547.0,172.6 547.2,172.3 547.3,171.0 547.5,170.1 547.6,167.0 547.8,167.5 548.1,166.2 548.4,166.0 548.7,164.0 549.0,164.2 549.5,162.6 550.0,160.9 550.5,159.8 551.0,159.1 551.1,159.0 551.3,156.5 551.4,156.9 551.6,154.7 551.7,155.0 551.9,154.0 552.0,153.1 552.2,153.3 552.3,149.1 552.5,151.1 552.7,148.7 552.8,148.0 553.0,147.1 553.7,146.4 554.4,144.1 554.5,143.0 554.7,144.0 554.8,139.6 555.0,140.7 555.1,139.6 555.3,136.7 555.5,137.3 555.7,136.4 555.8,136.2 556.0,132.7 556.2,133.5 556.4,133.2 556.6,134.0 556.8,136.6 557.0,134.7 557.2,137.8 557.4,138.5 557.6,138.4 557.8,141.0 558.1,140.7 558.3,142.2 558.6,143.6 558.9,145.6 559.2,144.6 559.5,146.5 559.6,145.3 559.8,144.6 559.9,144.5 560.1,141.4 560.2,141.9 560.4,139.5 560.5,138.8 560.7,136.8 560.8,136.6 561.0,136.8 561.2,137.2 561.4,138.9 561.6,138.2 561.8,139.5 562.0,140.3 562.2,142.5 562.5,143.8 562.7,145.1 563.1,144.0 563.5,147.6 563.8,149.4 564.1,149.2 564.4,148.9 564.6,148.3 564.8,146.2 564.9,145.9 565.1,147.6 565.3,145.3 565.5,144.6 565.7,144.1 565.8,143.5 566.0,141.4 566.2,140.3 567.0,139.3 567.8,138.3 568.0,137.1 568.3,136.3 568.5,133.7 568.8,134.0 569.0,132.0 569.3,131.7 569.4,128.4 569.5,127.7 569.6,126.2 569.8,128.1 569.9,127.7 570.0,125.4 570.1,123.5 570.2,124.3 570.4,123.2 570.5,121.3 570.6,119.0 570.7,118.4 571.4,118.1 572.2,117.3 572.8,118.1 573.3,119.4 573.8,121.3 574.4,118.7 574.6,121.3 574.8,120.1 575.0,121.5 575.2,124.9 575.4,125.3 575.6,127.6 575.8,126.6 576.0,126.4 576.2,126.4 576.5,126.3 576.7,126.7 576.9,125.4 577.1,122.9 577.3,121.6 577.6,119.4 577.8,120.4 577.9,117.8 578.1,116.6 578.2,115.0 578.4,114.6 578.6,115.5 578.8,111.9 579.0,113.6 579.1,111.6 579.3,116.1 579.4,114.1 579.6,114.8 579.7,118.6 579.8,118.0 580.0,121.1 580.1,119.9 580.3,120.4 580.4,124.1 580.6,125.3 580.8,127.1 581.1,127.7 581.3,126.8 581.5,129.6 581.8,130.9 582.0,131.0 582.2,133.4 582.7,132.4 583.1,135.8 583.5,136.4 584.0,135.4 584.4,133.7 584.7,134.9 585.1,134.6 585.5,131.0 585.7,130.4 585.9,131.0 586.0,127.7 586.2,129.0 586.5,126.7 586.7,123.8 587.0,124.0 588.0,124.0 589.0,123.1 589.1,125.2 589.3,124.2 589.4,127.9 589.6,127.3 589.7,129.4 589.8,130.6 590.0,130.8 590.1,131.8 590.3,134.4 590.4,135.6 590.5,134.4 590.7,132.5 590.8,130.4 591.0,128.4 591.1,130.9 591.3,128.6 591.5,128.1 591.7,125.0 591.8,124.9 592.0,125.3 592.2,123.1 592.3,121.6 592.4,119.4 592.5,118.8 592.7,119.7 592.8,116.5 592.9,116.8 593.0,115.3 593.1,115.7 593.3,114.3 593.4,111.1 593.5,108.9 593.7,109.0 593.8,108.8 594.0,110.4 594.1,112.3 594.3,113.6 594.4,111.1 594.6,115.0 594.8,116.3 594.9,117.5 595.0,117.3 595.2,117.1 595.4,120.4 595.5,120.9 595.6,121.8 595.6,123.7 595.7,122.4 595.7,122.3 595.8,125.2 595.9,127.2 595.9,125.8 596.0,129.0 596.0,130.7 596.1,129.3 596.2,131.4 596.2,132.7 596.3,132.9 596.4,132.9 596.4,134.1 596.5,137.0 596.6,138.1 596.6,137.8 596.7,137.9 597.0,139.0 597.2,137.8 597.5,134.6 597.8,134.7 598.1,134.9 598.4,133.8 598.7,131.2 599.0,129.9 599.7,129.2 600.4,126.9 600.5,127.6 600.6,128.6 600.8,131.7 600.9,131.4 601.0,133.2 601.1,133.7 601.2,135.1 601.3,134.6 601.5,135.3 601.6,139.9 601.7,138.5 601.8,139.0 601.9,141.5 602.0,143.1 602.1,141.7 602.2,144.4 602.3,144.4 602.4,146.1 602.5,145.2 602.6,146.3 602.7,150.3 603.2,149.6 603.6,147.5 604.4,146.9 604.5,146.9 604.6,149.8 604.7,149.6 604.7,152.5 604.8,152.9 604.9,154.1 605.0,155.2 605.1,154.1 605.1,154.4 605.2,155.9 605.3,156.9 605.4,157.5 605.4,158.4 605.5,161.1 605.6,163.3 605.7,162.9 605.7,165.5 605.8,166.4 605.9,164.5 606.0,167.3 606.0,167.7 606.1,167.7 606.2,171.1 606.3,170.2 606.4,172.2 606.5,173.5 606.6,175.5 606.6,175.5 606.7,175.7 606.8,176.8 606.9,176.9 607.0,180.0 607.1,179.6 607.2,176.1 607.3,174.5 607.4,174.2 607.5,173.5 607.6,174.3 607.7,172.9 607.8,172.1 608.0,168.4 608.1,169.8 608.3,168.5 608.4,167.0 608.6,169.4 608.8,167.4 609.0,168.7 609.2,171.6 609.4,173.6 609.6,173.8 609.8,173.7 610.0,175.7 610.1,175.3 610.2,172.2 610.4,171.9 610.5,170.7 610.6,169.3 610.7,169.5 610.9,167.4 611.0,166.6 611.2,165.2 611.3,166.0 611.5,163.2 611.8,166.0 612.1,165.1 612.4,165.9 612.7,169.4 613.0,168.1 613.3,171.0 613.6,172.2 613.8,173.3 614.1,172.2 614.5,174.1 615.0,174.6 615.8,175.5 616.7,174.1 617.2,172.6 617.8,170.9 618.4,169.5 619.0,169.8 619.2,167.9 619.5,167.4 619.7,165.2 620.0,163.7 620.4,162.2 620.8,162.9 621.1,161.1 621.5,158.8 621.8,159.9 622.0,159.2 622.1,160.7 622.3,160.8 622.5,162.5 622.8,165.4 623.0,164.9 623.3,165.9 623.5,167.8 623.6,168.3 623.8,170.9 624.0,169.8 624.2,173.8 624.4,172.3 624.6,175.7 624.7,176.1 624.9,175.8 625.0,177.8 625.2,178.5 625.4,179.3 625.5,180.2 625.7,181.8 625.8,184.8 626.0,185.5 626.0,186.8 626.0,185.4 626.0,187.1 626.0,190.1 626.0,189.1 626.3,191.6 626.5,191.2 626.8,194.2 627.0,192.3 627.3,195.5 627.5,195.1 627.8,195.8 627.9,196.1 627.9,199.6 628.0,199.8 628.1,199.9 628.2,201.7 628.2,204.1 628.3,203.5 628.3,205.3 628.3,205.1 628.4,206.3 628.4,208.9 628.4,209.8 628.4,209.5 628.5,210.3 628.5,211.3 628.5,213.8 628.5,214.5 628.6,215.0 628.6,215.9 628.6,217.9 628.7,217.2 628.7,216.4 628.8,214.8 628.9,212.8 629.0,211.4 629.0,212.1 629.1,210.2 629.2,210.0 629.2,207.1 629.3,207.9 629.6,207.9 629.8,210.4 630.1,211.5 630.4,211.6 630.8,209.5 631.2,210.7 631.5,210.9 631.7,212.9 632.0,212.3 632.2,213.2 632.5,215.6 632.7,213.6 633.0,212.0 633.2,211.4 633.4,210.9 633.8,210.5 634.3,212.9 634.4,211.7 634.5,210.8 634.7,208.7 634.8,209.2 634.9,208.4 635.0,207.5 635.1,205.0 635.2,205.0 635.4,203.0 635.5,203.0 635.6,200.3 635.7,203.3 635.8,204.6 635.9,204.4 636.0,205.6 636.1,206.7 636.2,207.8 636.3,207.5 636.4,210.8 636.6,208.1 636.8,207.0 636.9,205.7 637.1,205.1 637.3,205.3 637.8,204.3 638.2,205.6 638.3,205.9 638.4,203.5 638.5,202.0 638.6,202.6 638.8,201.6 638.9,200.4 639.0,199.9 639.1,197.2 639.2,198.0 639.3,198.9 639.4,198.1 639.5,199.3 639.6,201.4 639.7,202.4 639.8,202.8 639.9,203.4 640.0,205.3 640.4,203.7 640.8,204.1 641.2,203.7 641.3,203.0 641.4,205.2 641.5,206.6 641.7,206.0 641.8,208.8 641.9,210.1 642.0,209.7 642.5,210.7 642.9,212.6 643.2,211.1 643.5,209.7 643.8,209.0"/>
<g fill="rgba(244,222,225,0.7)" stroke="#a89698" stroke-width="0.7">
<rect x="104.3" y="271.4" width="23.8" height="8"/>
<rect x="149.5" y="271.4" width="23.8" height="8"/>
<rect x="249.3" y="271.4" width="10.2" height="8"/>
<rect x="335.5" y="271.4" width="66.7" height="8"/>
</g>
<g fill="rgba(240,208,214,0.72)" stroke="#a89698" stroke-width="0.7">
<rect x="428.3" y="196.5" width="70.5" height="22.8"/>
<rect x="624.4" y="196.5" width="23.8" height="22.8"/>
</g>
<g fill="rgba(229,232,249,0.84)" stroke="#232323" stroke-width="1.2">
<rect x="249.5" y="123" width="10" height="32"/>
<rect x="336" y="197" width="66.2" height="10.3"/>
<rect x="631.6" y="108.5" width="10" height="31.6"/>
</g>
<g stroke="#222" stroke-width="1.1" fill="none">
<line x1="107.4" x2="407" y1="275" y2="275" stroke-dasharray="3.3 3.26" stroke-width="1.5" stroke="#161616"/>
<line x1="418" x2="671.8" y1="207.2" y2="207.2" stroke-dasharray="3.2 3.4"/>
</g>
<g stroke="#2016c8" stroke-width="1.5" fill="none" stroke-linecap="round" stroke-linejoin="round">
<path d="M254.4 134.6 L362.7 201.7 M357.7 203.2 L362.7 201.7 L361 197.7"/>
<path d="M636.2 119.5 L688.8 190.5 M683.6 189.8 L688.8 190.5 L689.3 185.5"/>
</g>
</svg>
<div id="foot">© 2026 Glassnode. All Rights Reserved.</div>
<div id="logo">glassnode</div>
</div></body></html>
